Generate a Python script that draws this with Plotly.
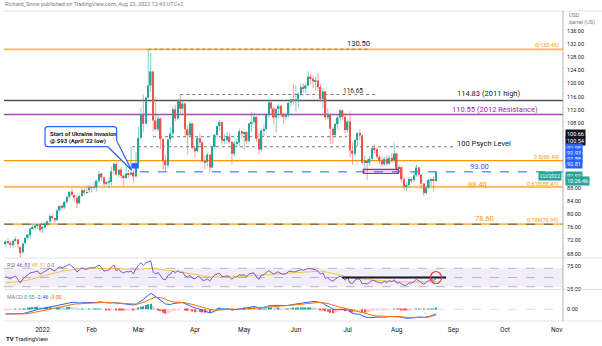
import plotly.graph_objects as go
import pandas as pd

# ---------------- data ----------------
first_session = "2021-12-10"
holidays = ["2021-12-24", "2022-01-17", "2022-02-21", "2022-04-15", "2022-05-30",
            "2022-06-20", "2022-07-04", "2022-09-05"]

opens = [70.9,71.6,71.3,70.6,71.9,72.3,70.0,68.4,71.2,72.8,73.6,75.8,75.9,76.6,76.9,
 75.7,76.0,77.0,77.8,79.5,78.9,78.2,81.2,82.6,82.1,83.8,85.4,86.9,85.9,85.0,83.4,85.6,87.4,86.6,87.7,
 88.2,88.2,88.3,90.3,92.5,91.3,89.4,89.7,89.9,93.4,95.4,92.1,93.7,91.8,91.1,92.4,92.1,92.8,91.6,
 95.7,103.4,110.6,107.7,115.7,119.4,123.7,108.7,106.0,109.3,103.0,96.4,95.0,103.0,104.7,112.1,109.3,114.9,112.3,113.9,106.0,104.2,107.8,
 100.3,99.3,103.3,102.0,96.2,96.0,98.3,94.3,100.6,104.3,107.0,108.2,102.6,102.8,103.8,102.1,98.5,101.7,102.0,105.4,
 104.7,105.2,102.4,107.8,108.3,109.8,103.1,99.8,105.7,106.1,110.5,114.2,112.4,109.6,112.2,113.2,110.3,109.8,110.3,114.1,115.1,
 114.7,115.3,116.9,118.9,118.5,119.4,122.1,121.5,120.7,120.9,118.9,115.3,117.6,109.6,110.65,106.2,104.3,107.6,109.6,111.8,109.8,
 105.8,108.4,99.5,98.5,102.7,104.8,104.1,95.8,96.3,95.8,97.0,100.2,99.9,97.6,96.4,95.3,97.0,95.5,97.3,96.5,
 98.6,93.9,94.4,90.7,88.5,89.0,90.8,90.5,91.9,94.3,92.1,89.4,86.5,88.1,90.5,90.8,90.2]
highs = [72.1,72.6,71.8,72.0,73.2,72.4,70.2,71.3,72.9,73.9,75.9,76.9,77.0,77.1,77.0,
 76.5,77.6,78.0,80.2,80.0,79.1,81.5,82.7,83.0,84.1,85.7,87.0,87.9,86.3,85.8,86.0,88.0,88.0,88.8,88.9,
 88.6,89.7,90.4,93.2,92.7,91.6,90.2,91.5,94.7,95.8,95.8,93.5,94.3,92.2,96.0,93.6,100.5,93.4,99.1,
 106.8,112.5,116.6,116.0,130.5,129.4,123.9,116.0,110.6,109.7,103.6,98.3,103.0,106.6,113.0,113.4,115.4,116.65,114.8,114.2,107.2,108.5,108.0,
 100.7,104.0,104.7,102.4,97.9,98.9,98.3,101.1,104.6,107.0,109.0,108.4,104.4,105.2,104.9,102.5,102.4,103.2,106.2,105.8,
 105.3,105.4,108.0,111.4,111.2,110.0,104.9,106.0,107.4,111.0,115.0,114.8,113.0,112.5,113.6,113.5,111.0,111.0,114.5,115.4,119.98,
 119.4,117.2,120.0,120.0,120.0,123.7,123.3,122.5,122.0,123.2,119.8,118.6,117.7,112.3,110.7,106.6,107.9,110.3,112.3,112.0,111.1,
 108.8,111.5,101.9,103.1,105.2,106.0,104.5,98.0,97.1,97.9,101.0,101.3,100.4,98.0,97.7,97.6,98.2,98.0,98.7,101.9,
 98.8,95.1,94.9,91.5,89.7,91.4,91.3,93.3,95.1,94.4,92.3,89.5,88.6,90.9,91.0,91.6,93.2]
lows = [70.2,70.9,69.9,69.7,71.6,69.6,66.1,68.2,70.9,72.3,72.6,75.3,75.0,75.6,74.5,
 74.3,75.7,76.5,76.7,78.2,77.4,78.0,80.8,81.3,81.6,83.3,84.6,85.4,84.0,81.9,83.2,85.3,85.7,86.2,86.6,
 86.6,87.5,87.0,89.6,90.2,88.6,88.9,88.2,88.9,92.2,91.8,91.3,90.9,88.8,90.6,91.3,91.9,89.7,91.4,
 95.2,103.0,105.3,107.6,115.4,117.2,105.3,105.7,105.3,99.8,93.5,93.2,94.3,102.0,103.1,108.4,108.8,110.6,110.7,103.5,98.4,103.7,99.9,
 97.4,98.8,100.6,95.9,93.9,94.6,92.9,94.1,99.8,103.6,105.5,101.4,101.6,101.6,101.6,95.3,97.8,100.7,100.8,103.3,
 99.6,101.4,101.6,105.0,107.4,102.2,98.2,99.2,103.8,105.8,109.6,110.4,107.5,105.0,109.3,109.8,107.7,109.0,109.7,113.0,113.5,
 111.4,112.6,116.2,117.1,117.0,119.1,120.0,118.6,117.9,117.6,114.6,112.3,108.9,108.9,101.5,101.5,103.7,105.9,108.6,108.9,104.6,
 104.9,97.4,95.1,97.7,100.7,102.3,95.1,93.4,90.6,94.8,96.6,98.4,97.0,95.3,94.5,94.9,95.0,95.0,95.8,96.1,
 92.8,92.9,89.6,87.6,87.0,88.1,89.4,89.7,91.5,91.5,87.8,85.7,86.0,87.7,88.6,86.9,89.8]
closes = [71.7,71.3,70.7,71.9,72.4,70.9,68.2,71.1,72.8,73.8,75.6,76.0,76.6,77.0,75.2,
 76.1,77.0,77.9,79.5,78.9,78.2,81.2,82.6,82.1,83.8,85.4,86.9,86.0,85.1,83.3,85.6,87.4,86.6,86.8,88.2,
 88.2,88.3,90.3,92.3,91.3,89.4,89.7,89.9,93.1,95.5,92.1,93.7,91.8,91.1,92.4,92.1,92.8,91.6,95.7,
 103.4,110.6,107.7,115.7,119.4,123.7,108.7,106.0,109.3,103.0,96.4,95.0,103.0,104.7,112.1,109.3,114.9,112.3,113.9,106.0,104.2,107.8,100.3,
 99.3,103.3,102.0,96.2,96.0,98.3,94.3,100.6,104.3,107.0,108.2,102.6,102.8,103.8,102.1,98.5,101.7,102.0,105.4,104.7,
 105.2,102.4,107.8,108.3,109.8,103.1,99.8,105.7,106.1,110.5,114.2,112.4,109.6,112.2,113.2,110.3,109.8,110.3,114.1,115.1,114.7,
 115.3,116.9,118.9,118.5,119.4,122.1,121.5,120.7,120.9,118.9,115.3,117.6,109.6,110.65,106.2,104.3,107.6,109.6,111.8,109.8,105.8,
 108.4,99.5,98.5,102.7,104.8,104.1,95.8,96.3,95.8,97.0,100.2,99.9,97.6,96.4,95.3,97.0,95.5,97.3,96.5,98.6,
 93.9,94.4,90.7,88.5,89.0,90.8,90.5,91.9,94.3,92.1,89.4,86.5,88.1,90.5,90.8,90.2,92.9]

rsi = [52,50,47,51,53,46,38,47,52,55,60,61,63,64,57,
 60,63,66,70,67,64,70,73,71,74,77,79,74,70,62,67,71,68,68,71,
 71,71,74,77,72,64,65,66,73,77,65,68,62,60,63,62,64,58,69,
 77,82,76,82,84,86,62,58,61,54,46,45,55,57,64,60,65,61,62,53,51,55,48,
 47,52,51,44,44,47,42,50,55,58,59,52,52,54,51,46,51,51,56,55,
 56,52,58,59,60,51,46,55,56,61,65,61,57,61,62,58,57,58,63,64,62,
 63,65,67,66,67,70,69,67,67,63,57,60,48,50,44,42,47,50,53,50,44,
 50,38,37,44,47,46,36,37,36,39,44,43,40,39,38,42,39,43,41,45,
 38,39,35,33,34,38,38,41,46,43,39,35,39,44,45,44,46.83]
rsi_ma = [38,38.5,39,39.5,40,40.5,41,42,43,44.5,46,47.5,49,50.5,52,
 53.5,55,56.5,58,59,60,61,62.5,63.5,64.5,66,67,68,68.5,69,69.5,70,70,70,70,
 70,70,70.5,71,71,70.5,70,70,70,70.5,70,69.5,69,68.5,68,67.5,67,66.5,66.5,
 67,68,68,69,69.5,70,69.5,69,68.5,68,67,66,65.5,65,64.5,63.5,63,62,61,60,58.5,58,57,
 56,55,54,53,52.5,52,51.5,51,51,51,51,51,51,51.5,51.5,51,51,51,51.5,52,
 52,52.5,53,53.5,54,54,54,54.5,55,55.5,56,56.5,57,57.5,58,58,58.5,59,59.5,60,60,
 60.5,61,61.5,62,62.5,63,63.5,64,64.5,64.5,64,63.5,62.5,61.5,60,58.5,57,56,55,54,52.5,
 51.5,50.5,49.5,48.5,48,47.5,46.5,46,45.5,45,44.5,44,43.5,43,42.5,42,41.5,41.5,41,41,
 41,40.8,40.6,40.4,40.2,40,40,40,40.2,40.4,40.4,40.3,40.2,40.3,40.6,41,41.4]
macd = [-2.6,-2.6,-2.6,-2.5,-2.3,-2.3,-2.5,-2.3,-2.0,-1.6,-1.1,-0.7,-0.3,0.1,0.2,
 0.4,0.7,1.0,1.4,1.6,1.7,2.0,2.4,2.6,2.9,3.2,3.6,3.7,3.7,3.4,3.4,3.5,3.5,3.5,3.6,
 3.6,3.6,3.7,4.0,4.0,3.7,3.5,3.3,3.4,3.6,3.4,3.3,3.0,2.8,2.7,2.6,2.5,2.3,2.6,
 3.4,4.6,5.3,6.5,7.6,8.6,7.8,6.8,6.2,5.2,4.0,2.9,2.7,2.6,3.0,3.0,3.4,3.5,3.6,3.0,2.4,2.2,1.5,
 0.7,0.5,0.2,-0.5,-1.0,-1.3,-1.9,-1.6,-1.0,-0.3,0.3,0.2,0.2,0.3,0.2,-0.3,-0.3,-0.2,0.1,0.3,
 0.6,0.5,0.8,1.2,1.5,1.2,0.7,0.8,0.9,1.3,1.9,2.1,2.0,2.1,2.2,2.1,1.9,1.8,2.1,2.4,2.6,
 2.8,3.0,3.3,3.5,3.7,4.0,4.2,4.2,4.2,4.0,3.5,3.3,2.4,1.8,0.9,0.1,-0.2,-0.2,0.0,0.0,-0.4,
 -0.4,-1.4,-2.2,-2.5,-2.6,-2.7,-3.5,-4.0,-4.4,-4.5,-4.3,-4.1,-4.2,-4.2,-4.3,-4.1,-4.1,-3.9,-3.9,-3.7,
 -3.9,-4.0,-4.3,-4.7,-4.9,-4.8,-4.7,-4.5,-4.1,-4.0,-4.1,-4.4,-4.3,-3.9,-3.5,-3.1,-2.46]
signal = [-2.4,-2.45,-2.5,-2.5,-2.5,-2.45,-2.45,-2.45,-2.4,-2.3,-2.1,-1.85,-1.55,-1.25,-0.95,
 -0.7,-0.4,-0.1,0.2,0.5,0.7,0.95,1.25,1.5,1.8,2.05,2.35,2.6,2.8,2.9,3.0,3.1,3.2,3.25,3.3,
 3.4,3.4,3.5,3.6,3.7,3.7,3.7,3.6,3.6,3.6,3.55,3.5,3.4,3.3,3.2,3.1,3.0,2.85,2.8,
 2.9,3.2,3.6,4.2,4.9,5.6,6.1,6.4,6.5,6.3,5.9,5.3,4.8,4.3,4.0,3.8,3.7,3.6,3.6,3.5,3.3,3.0,2.7,
 2.3,1.9,1.6,1.2,0.8,0.4,0.0,-0.3,-0.45,-0.45,-0.3,-0.2,-0.1,0.0,0.05,0.0,-0.05,-0.1,-0.05,0.0,
 0.1,0.2,0.3,0.45,0.65,0.75,0.75,0.75,0.8,0.9,1.1,1.3,1.45,1.6,1.7,1.8,1.8,1.85,1.9,2.0,2.1,
 2.25,2.4,2.6,2.8,2.95,3.15,3.35,3.5,3.65,3.7,3.7,3.6,3.4,3.1,2.7,2.2,1.7,1.3,1.05,0.85,0.6,
 0.4,0.05,-0.4,-0.8,-1.15,-1.45,-1.85,-2.3,-2.7,-3.05,-3.3,-3.45,-3.6,-3.7,-3.8,-3.85,-3.9,-3.9,-3.9,-3.85,
 -3.85,-3.9,-4.0,-4.1,-4.25,-4.35,-4.4,-4.45,-4.35,-4.3,-4.25,-4.3,-4.3,-4.2,-3.9,-3.5,-3.0]

month_labels = ["2022", "Feb", "Mar", "Apr", "May", "Jun", "Jul", "Aug", "Sep", "Oct", "Nov"]
month_starts = ["2022-01-03", "2022-02-01", "2022-03-01", "2022-04-01", "2022-05-02", "2022-06-01",
                "2022-07-01", "2022-08-01", "2022-09-01", "2022-10-03", "2022-11-01"]
price_ticks = [136, 132, 128, 124, 120, 116, 112, 108, 88, 84, 80, 76, 72, 68]

# ---------------- geometry helpers (pixel layout) ----------------
PL, PR, PT, PB = 4, 563, 11, 321
MAIN_B, RSI_B = 258, 289.5
def kx(px):  # pixel -> bar index
    return 15 + (px - 42.5) / 2.46
def pp(py):  # pixel -> price
    return 132 - (py - 44.3) / 3.27
def rr(py):
    return 70 + (268.3 - py) / 0.46
def mm(py):
    return (309.3 - py) / 1.86
def X(px):
    return (px - PL) / (PR - PL)
def Y(py):
    return (PB - py) / (PB - PT)

sessions = pd.bdate_range(first_session, "2022-11-30", freq="C", holidays=holidays)
pos = {d: i for i, d in enumerate(sessions)}
tickvals = [pos[pd.Timestamp(m)] for m in month_starts]
n = len(closes)
xs = list(range(n))

UP, DN = "#26a69a", "#ef5350"
fig = go.Figure()

# wicks
for up in (True, False):
    wx, wy = [], []
    for i in xs:
        if (closes[i] >= opens[i]) == up:
            wx += [i, i, None]
            wy += [lows[i], highs[i], None]
    fig.add_trace(go.Scatter(x=wx, y=wy, mode="lines", hoverinfo="skip",
                             line=dict(color="rgba(38,166,154,0.55)" if up else "rgba(239,83,80,0.55)", width=1),
                             xaxis="x", yaxis="y"))
# bodies
fig.add_trace(go.Bar(x=xs, y=[max(abs(c - o), 0.15) for o, c in zip(opens, closes)],
                     base=[min(o, c) for o, c in zip(opens, closes)], width=0.62,
                     marker=dict(color=[UP if c >= o else DN for o, c in zip(opens, closes)], line=dict(width=0)),
                     xaxis="x", yaxis="y", hoverinfo="skip"))

# RSI
fig.add_trace(go.Scatter(x=xs, y=rsi_ma, mode="lines", line=dict(color="#f6c343", width=1), xaxis="x", yaxis="y2"))
fig.add_trace(go.Scatter(x=xs, y=rsi, mode="lines", line=dict(color="#7e57c2", width=1), xaxis="x", yaxis="y2"))

# MACD
hist = [m - s for m, s in zip(macd, signal)]
hcol = []
for i, h in enumerate(hist):
    prev = hist[i - 1] if i else h
    if h >= 0:
        hcol.append("#26a69a" if h >= prev else "#b2dfdb")
    else:
        hcol.append("#ffcdd2" if h >= prev else "#ff5252")
fig.add_trace(go.Bar(x=xs, y=hist, width=0.6, marker=dict(color=hcol, line=dict(width=0)), xaxis="x", yaxis="y3"))
fig.add_trace(go.Scatter(x=xs, y=macd, mode="lines", line=dict(color="#2962ff", width=1), xaxis="x", yaxis="y3"))
fig.add_trace(go.Scatter(x=xs, y=signal, mode="lines", line=dict(color="#ff6d00", width=1), xaxis="x", yaxis="y3"))

shapes = []
def hline(y, x0, x1, color, width=1, dash="solid", yref="y"):
    shapes.append(dict(type="line", xref="x", yref=yref, x0=x0, x1=x1, y0=y, y1=y,
                       line=dict(color=color, width=width, dash=dash), layer="below"))
XL, XR = kx(PL), kx(PR)
# fib & levels
hline(130.45, XL, XR, "#ffb74d", 1.8)
hline(96.44, XL, XR, "#ff9800", 1.2)
hline(88.41, XL, XR, "#ffc069", 2.4)
hline(76.99, XL, XR, "#ffb74d", 1.8)
hline(76.99, XL, XR, "#50535e", 1, "dash")
hline(114.83, XL, XR, "#50535e", 1.5)
hline(110.55, XL, XR, "#ab47bc", 1.5)
hline(130.5, 58, kx(370), "#787b86", 1, "dot")
hline(116.65, 71, kx(378), "#787b86", 1, "dot")
hline(pp(136.7), kx(153), kx(347), "#787b86", 1, "dot")
hline(100.66, kx(132), kx(453), "#787b86", 1, "dot")
hline(93.0, kx(140), XR, "#2962ff", 1, "dash")
# purple box
shapes.append(dict(type="rect", xref="x", yref="y", x0=kx(363.3), x1=kx(398.3), y0=pp(173.5), y1=pp(169.3),
                   line=dict(color="#9c27b0", width=1.2), fillcolor="rgba(156,39,176,0.2)"))
# blue marker
shapes.append(dict(type="rect", xref="x", yref="y", x0=kx(131.7), x1=kx(138.5), y0=pp(168.3), y1=pp(163.3),
                   line=dict(color="#2962ff", width=0.5), fillcolor="#2962ff"))
# callout bubble
bx0, bx1, by0, by1, r = 45, 116.7, 126.7, 146.7, 3
pts = [("M", bx0 + r, by0), ("L", bx1 - r, by0), ("Q", bx1, by0, bx1, by0 + r), ("L", bx1, by1 - 6),
       ("L", 131.5, 170), ("L", bx1 - 9, by1), ("L", bx0 + r, by1), ("Q", bx0, by1, bx0, by1 - r),
       ("L", bx0, by0 + r), ("Q", bx0, by0, bx0 + r, by0)]
path = ""
for p in pts:
    coords = p[1:]
    seg = []
    for j in range(0, len(coords), 2):
        seg.append(f"{kx(coords[j]):.4f},{pp(coords[j + 1]):.4f}")
    path += p[0] + " ".join(seg) + " "
shapes.append(dict(type="path", xref="x", yref="y", path=path + "Z", fillcolor="white",
                   line=dict(color="#2962ff", width=1.2)))
# RSI band
shapes.append(dict(type="rect", xref="paper", yref="y2", x0=0, x1=1, y0=30, y1=70,
                   fillcolor="rgba(126,87,194,0.10)", line=dict(width=0), layer="below"))
for lv in (70, 50, 30):
    shapes.append(dict(type="line", xref="paper", yref="y2", x0=0, x1=1, y0=lv, y1=lv,
                       line=dict(color="#a5a7b0", width=0.8, dash="dash"), layer="below"))
hline(50, kx(342), kx(446), "#131722", 2, yref="y2")
shapes[-1]["layer"] = "above"
shapes.append(dict(type="circle", xref="x", yref="y2", x0=kx(430.5), x1=kx(441.5), y0=rr(283.5), y1=rr(271.5),
                   line=dict(color="#f23645", width=1.2)))
shapes.append(dict(type="line", xref="paper", yref="y3", x0=0, x1=1, y0=0, y1=0,
                   line=dict(color="#c9cbd1", width=0.6, dash="dash"), layer="below"))
# frame / separators
for py in (PT, MAIN_B, RSI_B, PB):
    shapes.append(dict(type="line", xref="paper", yref="paper", x0=0, x1=X(602), y0=Y(py), y1=Y(py),
                       line=dict(color="#e0e3eb", width=1)))
shapes.append(dict(type="line", xref="paper", yref="paper", x0=1, x1=1, y0=0, y1=1,
                   line=dict(color="#b2b5be", width=1)))

ann = []
def txt(s, px, py, size=7.5, color="#131722", xanchor="left", **kw):
    ann.append(dict(text=s, x=X(px), y=Y(py), xref="paper", yref="paper", showarrow=False,
                    xanchor=xanchor, yanchor="middle", font=dict(size=size, color=color), **kw))
txt("Richard_Snow published on TradingView.com, Aug 23, 2022 12:43 UTC+2", 3, 4.5, 5.5, "#787b86")
txt("USD", 567, 15, 5.5, "#787b86")
txt("barrel (US)", 567, 23, 5.5, "#787b86")
txt("130.50", 345, 43.5, 7.5)
txt("0(130.45)", 561, 45.5, 5.5, "#ff9800", "right")
txt("116.65", 341, 91.5, 6.5)
txt("114.83 (2011 high)", 455, 93.5, 7.5)
txt("110.55 (2012 Resistance)", 450, 109, 7.5, "#9c27b0")
txt("100 Psych Level", 455, 143, 7.5)
txt("0.5(96.44)", 561, 157.5, 5.5, "#ff9800", "right")
txt("93.00", 468, 167, 7.5, "#2962ff")
txt("88.40", 466, 184, 7.5, "#ff9800")
txt("0.618(88.41)", 561, 184, 5.5, "#ff9800", "right")
txt("78.60", 473, 218, 7.5, "#ff9800")
txt("0.786(76.99)", 561, 220.5, 5.5, "#ff9800", "right")
txt("<b>Start of Ukraine Invasion</b>", 48, 133.5, 6)
txt("<b>@ $93 (April '22 low)</b>", 48, 140.5, 6)
txt("CLV2022", 562, 175.5, 5, "white", "right", bgcolor="#26a69a", borderpad=1)
txt("RSI <span style='color:#7e57c2'>46.83</span> <span style='color:#e2b93b'>48.31</span> 0 0", 5, 264.5, 5.5, "#787b86")
txt("MACD <span style='color:#26a69a'>0.55</span> <span style='color:#2962ff'>-2.46</span> <span style='color:#ff6d00'>-3.00</span>",
    5, 296.5, 5.5, "#787b86")
txt("<b>TV</b> TradingView", 4, 338, 6, "#131722")
# price scale labels
for s, py, bg in [("100.66", 134, "#131722"), ("100.54", 141, "#131722"),
                  ("92.98", 148.3, "#2962ff"), ("92.93", 153.4, "#2962ff"),
                  ("92.88", 158.8, "#2962ff"), ("92.81", 164.2, "#2962ff"),
                  ("92.92", 175.5, "#26a69a"), ("10:26:46", 181, "#26a69a")]:
    txt(s, 565, py, 5.5, "white", "left", bgcolor=bg, borderpad=1)

fig.update_layout(
    width=602, height=346, margin=dict(l=PL, r=602 - PR, t=PT, b=346 - PB),
    paper_bgcolor="white", plot_bgcolor="white", showlegend=False, barmode="overlay",
    font=dict(family="Roboto, Arial, sans-serif", color="#131722"),
    xaxis=dict(domain=[0, 1], range=[XL, XR], anchor="y3", tickvals=tickvals, ticktext=month_labels,
               tickfont=dict(size=6.5, color="#131722"), showgrid=False, zeroline=False, showline=False,
               ticks="outside", ticklen=2, tickcolor="rgba(0,0,0,0)"),
    yaxis=dict(domain=[Y(MAIN_B), 1], range=[pp(MAIN_B), pp(PT)], side="right", anchor="x",
               tickvals=price_ticks, ticktext=[f"{v:.2f}" for v in price_ticks],
               tickfont=dict(size=5.5, color="#131722"), showgrid=False, zeroline=False,
               ticks="outside", ticklen=2, tickcolor="rgba(0,0,0,0)"),
    yaxis2=dict(domain=[Y(RSI_B), Y(MAIN_B)], range=[rr(RSI_B), rr(MAIN_B)], side="right", anchor="x",
                tickvals=[75, 25], ticktext=["75.00", "25.00"], tickfont=dict(size=5.5, color="#131722"),
                showgrid=False, zeroline=False, ticks="outside", ticklen=2, tickcolor="rgba(0,0,0,0)"),
    yaxis3=dict(domain=[0, Y(RSI_B)], range=[mm(PB), mm(RSI_B)], side="right", anchor="x",
                tickvals=[0], ticktext=["0.00"], tickfont=dict(size=5.5, color="#131722"),
                showgrid=False, zeroline=False, ticks="outside", ticklen=2, tickcolor="rgba(0,0,0,0)"),
    shapes=shapes, annotations=ann,
)
fig.write_html("out.html", config={"displayModeBar": False})
